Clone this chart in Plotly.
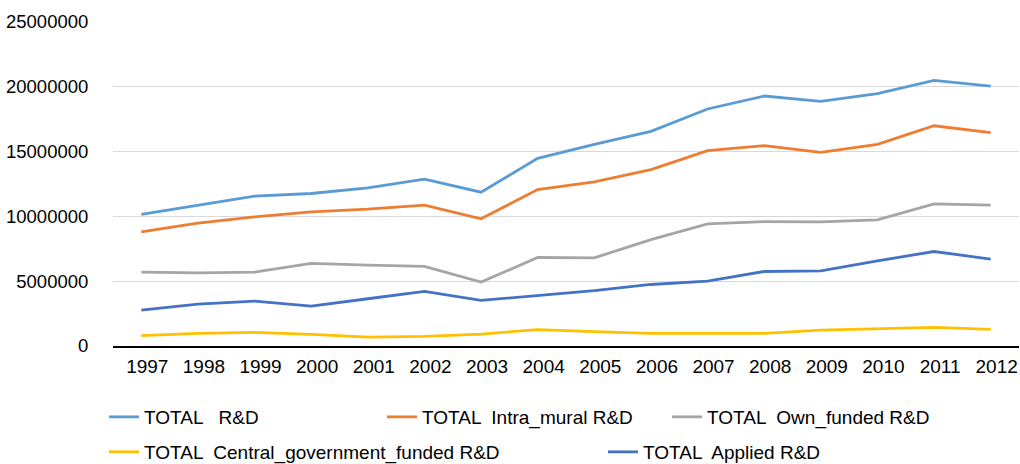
import plotly.graph_objects as go

years = [str(y) for y in range(1997, 2013)]

total_rd = [10.15e6, 10.85e6, 11.55e6, 11.75e6, 12.18e6, 12.85e6, 11.85e6, 14.46e6,
            15.54e6, 16.54e6, 18.26e6, 19.26e6, 18.85e6, 19.44e6, 20.46e6, 20.03e6]
intra_mural = [8.8e6, 9.46e6, 9.95e6, 10.33e6, 10.54e6, 10.85e6, 9.8e6, 12.05e6,
               12.64e6, 13.59e6, 15.05e6, 15.44e6, 14.92e6, 15.54e6, 16.97e6, 16.44e6]
own_funded = [5.69e6, 5.64e6, 5.69e6, 6.36e6, 6.23e6, 6.13e6, 4.92e6, 6.82e6,
              6.79e6, 8.2e6, 9.41e6, 9.59e6, 9.56e6, 9.72e6, 10.95e6, 10.85e6]
central_gov = [0.8e6, 0.97e6, 1.05e6, 0.9e6, 0.69e6, 0.74e6, 0.92e6, 1.26e6,
               1.1e6, 0.97e6, 0.97e6, 0.97e6, 1.23e6, 1.33e6, 1.44e6, 1.28e6]
applied = [2.77e6, 3.23e6, 3.46e6, 3.08e6, 3.64e6, 4.21e6, 3.51e6, 3.87e6,
           4.26e6, 4.74e6, 5.0e6, 5.74e6, 5.79e6, 6.56e6, 7.28e6, 6.69e6]

series = [
    ("TOTAL   R&D", total_rd, "#5B9BD5", "legend"),
    ("TOTAL  Intra_mural R&D", intra_mural, "#ED7D31", "legend2"),
    ("TOTAL  Own_funded R&D", own_funded, "#A5A5A5", "legend3"),
    ("TOTAL  Central_government_funded R&D", central_gov, "#FFC000", "legend4"),
    ("TOTAL  Applied R&D", applied, "#4472C4", "legend5"),
]

W, H = 1020, 464
fig = go.Figure()
for name, vals, color, lg in series:
    fig.add_trace(go.Scatter(x=years, y=vals, mode="lines", name=name,
                             line=dict(color=color, width=2.8), legend=lg))

font = dict(family="Liberation Sans, Arial, sans-serif", size=19, color="#000000")
yfont = dict(family="Liberation Sans, Arial, sans-serif", size=18.5, color="#000000")

# legend positions (pixel left, pixel center y)
leg_pos = {"legend": (104, 417), "legend2": (382, 417), "legend3": (667, 417),
           "legend4": (104, 452), "legend5": (603, 452)}
legends = {}
for key, (px, py) in leg_pos.items():
    legends[key] = dict(x=px / W, y=1 - py / H, xref="container", yref="container",
                        xanchor="left", yanchor="middle", itemwidth=30,
                        bgcolor="rgba(0,0,0,0)", font=font)

fig.update_layout(
    width=W, height=H,
    margin=dict(l=113, r=1, t=21, b=118, autoexpand=False),
    paper_bgcolor="white", plot_bgcolor="white",
    font=font,
    showlegend=True,
    xaxis=dict(type="category", range=[-0.5, 15.5], showgrid=False, showline=True,
               linecolor="#000000", linewidth=2, ticks="outside", ticklen=2,
               tickcolor="rgba(0,0,0,0)", tickfont=font, ticklabelshift=6,
               automargin=False),
    yaxis=dict(range=[0, 25.04e6], dtick=5e6, tickformat="d", showgrid=True,
               gridcolor="#D9D9D9", gridwidth=1, zeroline=False, showline=False,
               ticks="outside", ticklen=20, tickcolor="rgba(0,0,0,0)", tickfont=yfont,
               automargin=False),
    **legends,
)

fig.write_html("out.html", config={"displayModeBar": False},
               post_script="document.body.style.margin='0';document.body.style.overflow='hidden';")
